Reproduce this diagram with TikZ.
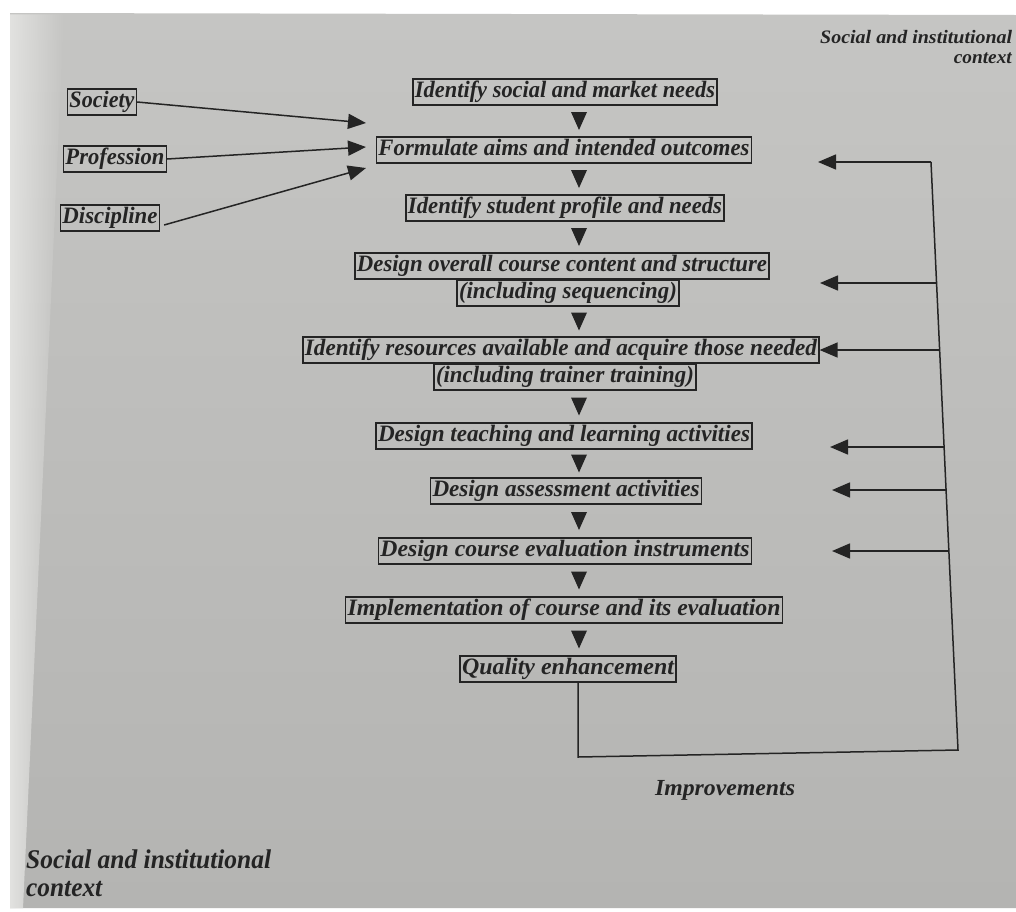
\documentclass[tikz,border=0pt]{standalone}
\usepackage{fontspec}
\setmainfont{Liberation Serif}
\usepackage{graphicx}
\usetikzlibrary{arrows.meta,calc,fadings}
\definecolor{ink}{RGB}{36,36,36}
\definecolor{pagetop}{RGB}{197,197,195}
\definecolor{pagebot}{RGB}{180,180,178}
\definecolor{edgelight}{RGB}{226,226,224}
\newcommand{\fw}[2]{\resizebox{#1pt}{\height}{#2}}
\tikzset{
  stage/.style={draw=ink, line width=1.2pt, text=ink, inner xsep=2pt, inner ysep=1.5pt,
    text height=17pt, text depth=6pt, font=\fontsize{23.5}{26}\selectfont\bfseries\itshape},
  lbl/.style={text=ink, inner sep=0pt, font=\fontsize{23}{26}\selectfont\bfseries\itshape},
  link/.style={draw=ink, line width=1.5pt, -{Triangle[length=18pt,width=15pt]}},
  loopline/.style={draw=ink, line width=1.5pt},
  dtri/.pic={\fill[ink] (-8,-9) -- (8,-9) -- (0,9) -- cycle;}
}
\begin{document}
\begin{tikzpicture}[x=1pt,y=-1pt]
\useasboundingbox (0,0) rectangle (1016,911);
% page
\fill[white] (0,0) rectangle (1016,911);
\shade[top color=pagetop, bottom color=pagebot] (10,13) -- (1016,15) -- (1016,908) -- (10,908) -- cycle;
\fill[edgelight, path fading=east] (10,13) -- (64,13) -- (23,908) -- (10,908) -- cycle;

% main column
\node[stage] (n1)  at (565,92)  {\fw{300}{Identify social and market needs}};
\node[stage] (n2)  at (564,150) {\fw{371}{Formulate aims and intended outcomes}};
\node[stage] (n3)  at (565,208) {\fw{314}{Identify student profile and needs}};
\node[stage] (n4a) at (562,266) {\fw{410}{Design overall course content and structure}};
\node[stage] (n4b) at (568,293) {\fw{218}{(including sequencing)}};
\node[stage] (n5a) at (561,350) {\fw{512}{Identify resources available and acquire those needed}};
\node[stage] (n5b) at (565,377) {\fw{258}{(including trainer training)}};
\node[stage] (n6)  at (564,436) {\fw{372}{Design teaching and learning activities}};
\node[stage] (n7)  at (566,491) {\fw{267}{Design assessment activities}};
\node[stage] (n8)  at (565,551) {\fw{369}{Design course evaluation instruments}};
\node[stage] (n9)  at (564,610) {\fw{433}{Implementation of course and its evaluation}};
\node[stage] (n10) at (568,669) {\fw{212}{Quality enhancement}};

% downward triangles
\coordinate (tx) at (579,0);
\foreach \a/\b in {n1/n2,n2/n3,n3/n4a,n4b/n5a,n5b/n6,n6/n7,n7/n8,n8/n9,n9/n10}{
  \path ($(\a.south)!.5!(\b.north)$) coordinate (mid);
  \pic at (mid -| tx) {dtri};
}

% inputs
\node[stage] (soc) at (102,102) {\fw{65}{Society}};
\node[stage] (pro) at (115,159) {\fw{99}{Profession}};
\node[stage] (dis) at (110,218) {\fw{95}{Discipline}};
\coordinate (a1) at (366,123);
\coordinate (a2) at (366,147);
\coordinate (a3) at (366,168);
\draw[link] (soc.east) -- (a1);
\draw[link] (pro.east) -- (a2);
\draw[link] ([xshift=4pt,yshift=-7pt]dis.east) -- (a3);

% improvement loop
\coordinate (vtop) at (931,162);
\coordinate (vbot) at (958,750);
\coordinate (qb) at (578,757);
\draw[loopline] (n10.south -| qb) -- (qb) -- (vbot) -- (vtop);
\coordinate (f1) at (818,162);
\coordinate (s2) at (936.6,283); \coordinate (f2) at (820,283);
\coordinate (s3) at (939.9,350);
\coordinate (s4) at (944.1,447); \coordinate (f4) at (830,447);
\coordinate (s5) at (946.1,490); \coordinate (f5) at (832,490);
\coordinate (s6) at (948.9,551); \coordinate (f6) at (832,551);
\draw[link] (vtop) -- (f1);
\draw[link] (s2) -- (f2);
\draw[link] (s3) -- (n5a.east);
\draw[link] (s4) -- (f4);
\draw[link] (s5) -- (f5);
\draw[link] (s6) -- (f6);

% labels
\node[lbl, anchor=base] (imp) at (725,795) {\fw{140}{Improvements}};
\node[lbl, anchor=base west, font=\fontsize{19}{22}\selectfont\bfseries\itshape] (ctxA1) at (820,43) {\fw{192}{Social and institutional}};
\node[lbl, anchor=base east, font=\fontsize{19}{22}\selectfont\bfseries\itshape] (ctxA2) at (1012,63) {\fw{58}{context}};
\node[lbl, anchor=base west, font=\fontsize{27}{30}\selectfont\bfseries\itshape] (ctxB1) at (26,868) {\fw{245}{Social and institutional}};
\node[lbl, anchor=base west, font=\fontsize{27}{30}\selectfont\bfseries\itshape] (ctxB2) at (26,896) {\fw{76}{context}};
\end{tikzpicture}
\end{document}
